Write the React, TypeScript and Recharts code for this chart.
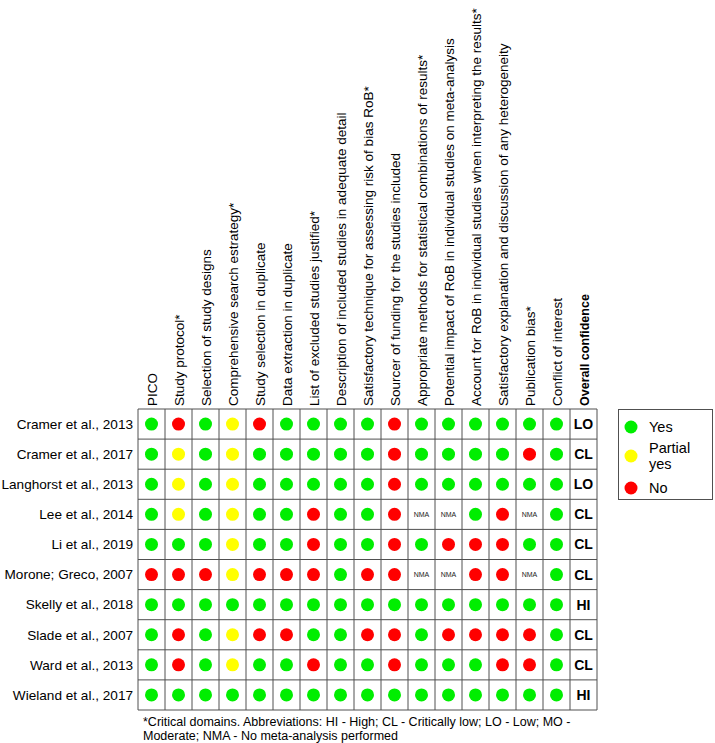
import React from 'react';
import {
  ScatterChart,
  Scatter,
  XAxis,
  YAxis,
  ReferenceLine,
} from 'recharts';

const studies = [
  'Cramer et al., 2013',
  'Cramer et al., 2017',
  'Langhorst et al., 2013',
  'Lee et al., 2014',
  'Li et al., 2019',
  'Morone; Greco, 2007',
  'Skelly et al., 2018',
  'Slade et al., 2007',
  'Ward et al., 2013',
  'Wieland et al., 2017',
];

const domains = [
  'PICO',
  'Study protocol*',
  'Selection of study designs',
  'Comprehensive search estrategy*',
  'Study selection in duplicate',
  'Data extraction in duplicate',
  'List of excluded studies justified*',
  'Description of included studies in adequate detail',
  'Satisfactory technique for assessing risk of bias RoB*',
  'Sourcer of funding for the studies included',
  'Appropriate methods for statistical combinations of results*',
  'Potential impact of RoB in individual studies on meta-analysis',
  'Account for RoB in individual studies when interpreting the results*',
  'Satisfactory explanation and discussion of any heterogeneity',
  'Publication bias*',
  'Conflict of interest',
  'Overall confidence',
];

// Y = yes, P = partial yes, N = no, NMA = no meta-analysis performed
const cramer2013 = ['Y', 'N', 'Y', 'P', 'N', 'Y', 'Y', 'Y', 'Y', 'N', 'Y', 'Y', 'Y', 'Y', 'Y', 'Y'];
const cramer2017 = ['Y', 'P', 'Y', 'P', 'Y', 'Y', 'Y', 'Y', 'Y', 'N', 'Y', 'Y', 'Y', 'Y', 'N', 'Y'];
const langhorst2013 = ['Y', 'P', 'Y', 'P', 'Y', 'Y', 'Y', 'Y', 'Y', 'N', 'Y', 'Y', 'Y', 'Y', 'Y', 'Y'];
const lee2014 = ['Y', 'P', 'Y', 'P', 'Y', 'Y', 'N', 'Y', 'Y', 'N', 'NMA', 'NMA', 'Y', 'N', 'NMA', 'Y'];
const li2019 = ['Y', 'Y', 'Y', 'P', 'Y', 'Y', 'N', 'Y', 'Y', 'N', 'Y', 'N', 'N', 'N', 'Y', 'Y'];
const morone2007 = ['N', 'N', 'N', 'P', 'N', 'N', 'N', 'Y', 'N', 'N', 'NMA', 'NMA', 'N', 'N', 'NMA', 'Y'];
const skelly2018 = ['Y', 'Y', 'Y', 'Y', 'Y', 'Y', 'Y', 'Y', 'Y', 'Y', 'Y', 'Y', 'Y', 'Y', 'Y', 'Y'];
const slade2007 = ['Y', 'N', 'Y', 'P', 'N', 'N', 'Y', 'Y', 'N', 'N', 'Y', 'N', 'N', 'N', 'N', 'Y'];
const ward2013 = ['Y', 'N', 'Y', 'P', 'Y', 'Y', 'N', 'Y', 'Y', 'N', 'Y', 'Y', 'Y', 'N', 'N', 'Y'];
const wieland2017 = ['Y', 'Y', 'Y', 'Y', 'Y', 'Y', 'Y', 'Y', 'Y', 'Y', 'Y', 'Y', 'Y', 'Y', 'Y', 'Y'];

const ratings = [
  cramer2013, cramer2017, langhorst2013, lee2014, li2019,
  morone2007, skelly2018, slade2007, ward2013, wieland2017,
];

const overall = ['LO', 'CL', 'LO', 'CL', 'CL', 'CL', 'HI', 'CL', 'CL', 'HI'];

const legendItems = [
  { key: 'Y', label: ['Yes'] },
  { key: 'P', label: ['Partial', 'yes'] },
  { key: 'N', label: ['No'] },
];

const COLORS: Record<string, string> = {
  Y: '#00ee00',
  P: '#ffff00',
  N: '#ff0000',
};

const FONT = "'Liberation Sans', Arial, sans-serif";
const LINE = '#505050';

const cells = ratings.flatMap((row, i) =>
  row.map((v, j) => ({ x: j + 0.5, y: i + 0.5, v }))
);
const overallCells = overall.map((v, i) => ({ x: domains.length - 0.5, y: i + 0.5, v }));

const xTicks = domains.map((_, j) => j + 0.5);
const yTicks = studies.map((_, i) => i + 0.5);
const xLines = Array.from({ length: domains.length + 1 }, (_, k) => k);
const yLines = Array.from({ length: studies.length + 1 }, (_, k) => k);

const CellShape = (props: any) => {
  const { cx, cy, payload } = props;
  if (payload.v === 'NMA') {
    return (
      <text x={cx} y={cy} dy="0.35em" textAnchor="middle" fontSize={7} fill="#222" fontFamily={FONT}>
        NMA
      </text>
    );
  }
  return <circle cx={cx} cy={cy} r={6.5} fill={COLORS[payload.v]} />;
};

const OverallShape = (props: any) => {
  const { cx, cy, payload } = props;
  return (
    <text x={cx} y={cy} dy="0.36em" textAnchor="middle" fontSize={14} fontWeight="bold" fill="#000" fontFamily={FONT}>
      {payload.v}
    </text>
  );
};

const HeaderTick = (props: any) => {
  const { x, index } = props;
  const label = domains[index] ?? '';
  const bold = label === 'Overall confidence';
  const bx = x + 5;
  const by = 406;
  return (
    <text
      x={bx}
      y={by}
      transform={`rotate(-90, ${bx}, ${by})`}
      textAnchor="start"
      fontSize={bold ? 12.5 : 13.5}
      fontWeight={bold ? 'bold' : 'normal'}
      fill="#000"
      fontFamily={FONT}
    >
      {label}
    </text>
  );
};

const StudyTick = (props: any) => {
  const { y, index } = props;
  return (
    <text x={133} y={y} dy="0.35em" textAnchor="end" fontSize={13.6} fill="#000" fontFamily={FONT}>
      {studies[index]}
    </text>
  );
};

export default function App() {
  return (
    <div style={{ position: 'absolute', left: 0, top: 0, width: 715, height: 743, background: '#fff', fontFamily: FONT }}>
      <ScatterChart width={715} height={743} margin={{ top: 0, right: 118, bottom: 33, left: 0 }}>
        <XAxis
          type="number"
          dataKey="x"
          orientation="top"
          domain={[0, domains.length]}
          ticks={xTicks}
          interval={0}
          height={409}
          axisLine={false}
          tickLine={false}
          tick={<HeaderTick />}
        />
        <YAxis
          type="number"
          dataKey="y"
          reversed
          domain={[0, studies.length]}
          ticks={yTicks}
          interval={0}
          width={138}
          axisLine={false}
          tickLine={false}
          tick={<StudyTick />}
        />
        {xLines.map((k) => (
          <ReferenceLine key={`vx-${k}`} x={k} stroke={LINE} strokeWidth={1} />
        ))}
        {yLines.map((k) => (
          <ReferenceLine key={`hy-${k}`} y={k} stroke={LINE} strokeWidth={1} />
        ))}
        <Scatter data={cells} shape={<CellShape />} isAnimationActive={false} />
        <Scatter data={overallCells} shape={<OverallShape />} isAnimationActive={false} />
      </ScatterChart>

      {/* legend */}
      <div
        style={{
          position: 'absolute',
          left: 618,
          top: 409,
          width: 95,
          height: 91,
          border: `1px solid ${LINE}`,
          boxSizing: 'border-box',
          fontSize: 14,
          color: '#000',
        }}
      >
        <svg width={95} height={91} style={{ position: 'absolute', left: 0, top: 0 }}>
          {legendItems.map((item, i) => {
            const cy = [17, 46, 78][i];
            return (
              <g key={item.key}>
                <circle cx={12} cy={cy} r={6.5} fill={COLORS[item.key]} />
                {item.label.map((t, li) => (
                  <text
                    key={t}
                    x={30}
                    y={cy + (item.label.length > 1 ? (li === 0 ? -8 : 8) : 0)}
                    dy="0.35em"
                    fontSize={14.5}
                    fontFamily={FONT}
                  >
                    {t}
                  </text>
                ))}
              </g>
            );
          })}
        </svg>
      </div>

      {/* footnote */}
      <div
        style={{
          position: 'absolute',
          left: 143,
          top: 715,
          width: 470,
          fontSize: 12.5,
          lineHeight: '14px',
          color: '#000',
        }}
      >
        *Critical domains. Abbreviations: HI - High; CL - Critically low; LO - Low; MO - Moderate; NMA - No meta-analysis performed
      </div>
    </div>
  );
}
